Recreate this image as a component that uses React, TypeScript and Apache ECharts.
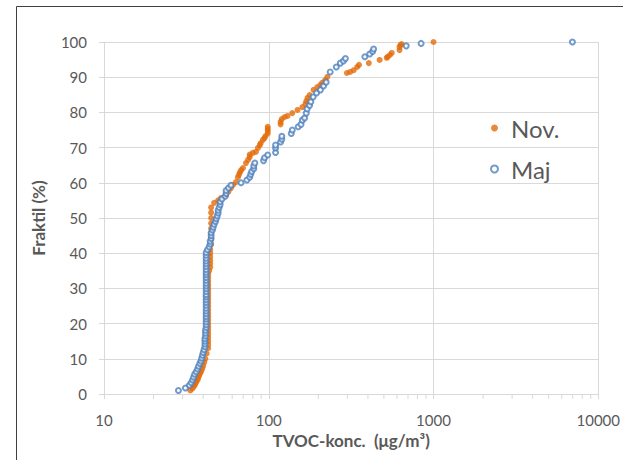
import React, { useEffect, useRef } from "react";
import * as echarts from "echarts";

// Nov. series (x = TVOC µg/m3, y = fraktil %)
const novX = [
  33.4, 34.5, 35.2, 35.8, 36.3, 37.0, 37.3, 37.8, 38.3, 38.9, 39.5, 40.0, 40.6, 41.2, 42.0, 42.9,
  42.9, 42.9, 42.9, 42.9, 42.9, 42.9, 42.9, 42.9, 42.9, 42.9, 42.9, 42.9, 42.9, 42.9, 42.9, 42.9,
  42.9, 42.9, 42.9, 42.9, 42.9, 43.5, 44.1, 44.1, 44.1, 44.1, 44.1, 44.1, 44.7, 44.7, 44.7, 44.7,
  44.7, 44.7, 44.7, 44.7, 46.6, 49.3, 51.4, 55.1, 57.0, 59.0, 60.7, 63.2, 65.0, 66.0, 66.9, 68.0,
  69.8, 72.7, 74.8, 76.6, 76.6, 80.0, 83.6, 86.0, 88.2, 89.4, 92.1, 94.3, 95.6, 98.6, 98.6, 98.6,
  98.6, 118, 118, 120, 124.8, 130, 139, 149.6, 160, 167, 169, 172, 177, 187, 197, 206,
  211, 220, 227, 298, 312, 328, 344, 353, 405, 471, 520, 527, 544, 558, 622, 622,
  630, 640, 1000,
];
const novY = [
  1.0, 1.6, 2.2, 2.8, 3.4, 4.0, 4.6, 5.2, 5.8, 6.4, 7.2, 8.0, 9.0, 10.0, 11.5, 13.0,
  14.0, 15.0, 16.0, 17.0, 18.0, 19.0, 20.0, 21.0, 22.0, 23.0, 24.0, 25.0, 26.0, 27.0, 28.0, 29.0,
  30.0, 31.0, 32.0, 33.0, 34.0, 35.0, 36.0, 37.0, 38.0, 39.0, 40.0, 41.0, 42.5, 44.0, 45.5, 47.0,
  48.5, 50.0, 51.5, 53.0, 54.3, 55.0, 55.7, 56.5, 57.5, 58.5, 59.4, 60.2, 61.6, 62.3, 63.0, 63.6,
  64.2, 65.6, 66.5, 67.3, 68.0, 68.5, 68.8, 69.9, 70.7, 71.3, 72.2, 72.7, 73.3, 74.0, 74.7, 75.3,
  75.9, 76.6, 77.3, 78.1, 78.7, 79.0, 79.8, 80.7, 81.5, 82.4, 83.2, 84.1, 84.9, 86.4, 87.2, 87.8,
  88.4, 89.2, 90.1, 91.2, 91.5, 92.0, 92.9, 93.5, 94.0, 94.9, 95.5, 95.8, 96.3, 96.9, 97.7, 98.6,
  99.1, 99.4, 100,
];

// Maj series
const majX = [
  28.3, 31.2, 33.0, 33.8, 34.5, 35.0, 35.5, 36.3, 37.0, 37.5, 38.2, 38.8, 39.2, 39.6, 40.0, 40.5,
  41.0, 41.0, 41.0, 41.0, 41.3, 41.3, 41.3, 41.7, 41.7, 41.7, 41.7, 41.7, 41.7, 41.7, 41.7, 41.7,
  41.7, 41.7, 41.7, 41.7, 41.7, 41.7, 41.7, 41.7, 41.7, 41.7, 41.7, 41.7, 41.7, 41.7, 41.7, 41.7,
  41.7, 41.7, 41.7, 42.5, 43.5, 44.1, 44.1, 44.7, 44.7, 44.7, 45.5, 46.0, 46.6, 47.5, 48.0, 48.7,
  49.3, 49.3, 50.0, 50.7, 50.7, 52.0, 54.4, 55.1, 55.1, 57.0, 59.0, 67.9, 73.7, 76.6, 77.7, 78.8,
  81.1, 81.1, 82.3, 93.0, 94.3, 98.6, 110, 110, 110, 118, 120, 120, 137, 139, 151, 157,
  160, 165, 169, 171, 177, 180, 186, 195, 206, 215, 223, 236, 257, 272, 284, 292,
  383, 410, 427, 433, 683, 841, 6970,
];
const majY = [
  1.0, 1.7, 2.5, 3.2, 4.0, 4.8, 5.6, 6.3, 7.1, 7.9, 8.7, 9.4, 10.2, 11.0, 11.8, 12.6,
  13.4, 14.2, 15.0, 15.7, 16.5, 17.3, 18.1, 18.9, 19.7, 20.5, 21.3, 22.0, 22.8, 23.6, 24.4, 25.2,
  26.0, 26.8, 27.6, 28.3, 29.1, 29.9, 30.7, 31.5, 32.3, 33.1, 33.9, 34.6, 35.4, 36.2, 37.0, 37.8,
  38.6, 39.4, 40.2, 41.0, 41.8, 42.6, 43.4, 44.2, 45.0, 45.8, 46.6, 47.4, 48.2, 49.0, 49.8, 50.6,
  51.4, 52.2, 53.0, 53.8, 54.6, 55.4, 56.2, 57.0, 57.8, 58.5, 59.3, 60.0, 60.8, 61.6, 62.4, 63.2,
  64.0, 64.8, 65.6, 66.3, 67.1, 67.9, 68.6, 69.9, 70.7, 71.6, 72.4, 73.2, 74.0, 75.0, 75.9, 76.6,
  77.8, 78.4, 79.8, 81.0, 82.0, 83.0, 84.4, 85.5, 86.4, 87.5, 88.6, 91.5, 92.9, 94.0, 94.6, 95.3,
  95.8, 96.6, 97.3, 98.0, 98.9, 99.6, 100,
];

const minorTicks = [20, 30, 40, 50, 60, 70, 80, 90, 200, 300, 400, 500, 600, 700, 800, 900, 2000, 3000, 4000, 5000, 6000, 7000, 8000, 9000];

const SERIES_NAMES = ["Nov.", "Maj"];
const X_TITLE = "TVOC-konc.  (μg/m³)";
const Y_TITLE = "Fraktil (%)";

const FONT = "Lato, 'Open Sans', sans-serif";
const TEXT = "#595959";
const GRID = "#D9D9D9";

export default function App() {
  const ref = useRef<HTMLDivElement>(null);
  useEffect(() => {
    if (!ref.current) return;
    const chart = echarts.init(ref.current, null, { renderer: "svg" });
    const nov = novX.map((x, i) => [x, novY[i]]);
    const maj = majX.map((x, i) => [x, majY[i]]);
    chart.setOption({
      animation: false,
      textStyle: { fontFamily: FONT },
      graphic: [
        {
          type: "rect",
          shape: { x: 16.5, y: 6.5, width: 800, height: 800 },
          style: { fill: "none", stroke: "#404040", lineWidth: 1 },
          silent: true,
        },
      ],
      grid: { left: 104, right: 19, top: 42, bottom: 66, containLabel: false },
      legend: {
        orient: "vertical",
        left: 490,
        top: 116,
        itemWidth: 7,
        itemHeight: 7,
        itemGap: 17,
        padding: 0,
        data: [
          { name: SERIES_NAMES[0], icon: "circle" },
          { name: SERIES_NAMES[1], icon: "emptyCircle" },
        ],
        textStyle: { fontSize: 24, color: TEXT, fontFamily: FONT, padding: [0, 0, 0, 8] },
      },
      xAxis: {
        type: "log",
        logBase: 10,
        min: 10,
        max: 10000,
        name: X_TITLE,
        nameLocation: "middle",
        nameGap: 37,
        nameTextStyle: { fontSize: 17, fontWeight: "bold", color: TEXT, fontFamily: FONT },
        axisLine: { show: true, lineStyle: { color: GRID, width: 1 } },
        axisTick: { show: true, length: 5, lineStyle: { color: GRID } },
        axisLabel: {
          fontSize: 15,
          color: TEXT,
          margin: 18,
          fontFamily: FONT,
          formatter: (v: number) => String(Math.round(v)),
        },
        splitLine: { show: true, lineStyle: { color: GRID, width: 1 } },
      },
      yAxis: {
        type: "value",
        min: 0,
        max: 100,
        interval: 10,
        name: Y_TITLE,
        nameLocation: "middle",
        nameGap: 57,
        nameTextStyle: { fontSize: 17, fontWeight: "bold", color: TEXT, fontFamily: FONT },
        axisLine: { show: true, lineStyle: { color: GRID, width: 1 } },
        axisTick: { show: true, length: 5, lineStyle: { color: GRID } },
        axisLabel: { fontSize: 15, color: TEXT, margin: 17, fontFamily: FONT },
        splitLine: { show: true, lineStyle: { color: GRID, width: 1 } },
      },
      series: [
        {
          type: "custom",
          name: "minor",
          silent: true,
          clip: false,
          data: minorTicks.map((v) => [v, 0]),
          renderItem: (params: any, api: any) => {
            const p = api.coord([api.value(0), 0]);
            return {
              type: "line",
              shape: { x1: p[0], y1: p[1], x2: p[0], y2: p[1] + 5 },
              style: { stroke: GRID, lineWidth: 1 },
            };
          },
          z: 1,
        },
        {
          type: "scatter",
          name: SERIES_NAMES[0],
          data: nov,
          symbol: "circle",
          symbolSize: 6,
          itemStyle: { color: "#E46C0A" },
          z: 2,
        },
        {
          type: "scatter",
          name: SERIES_NAMES[1],
          data: maj,
          symbol: "emptyCircle",
          symbolSize: 5,
          itemStyle: { color: "#4F81BD", borderWidth: 1.3 },
          z: 3,
        },
      ],
    });
    return () => chart.dispose();
  }, []);
  return (
    <div
      ref={ref}
      style={{ position: "fixed", left: 0, top: 0, width: 623, height: 460, background: "#fff" }}
    />
  );
}
